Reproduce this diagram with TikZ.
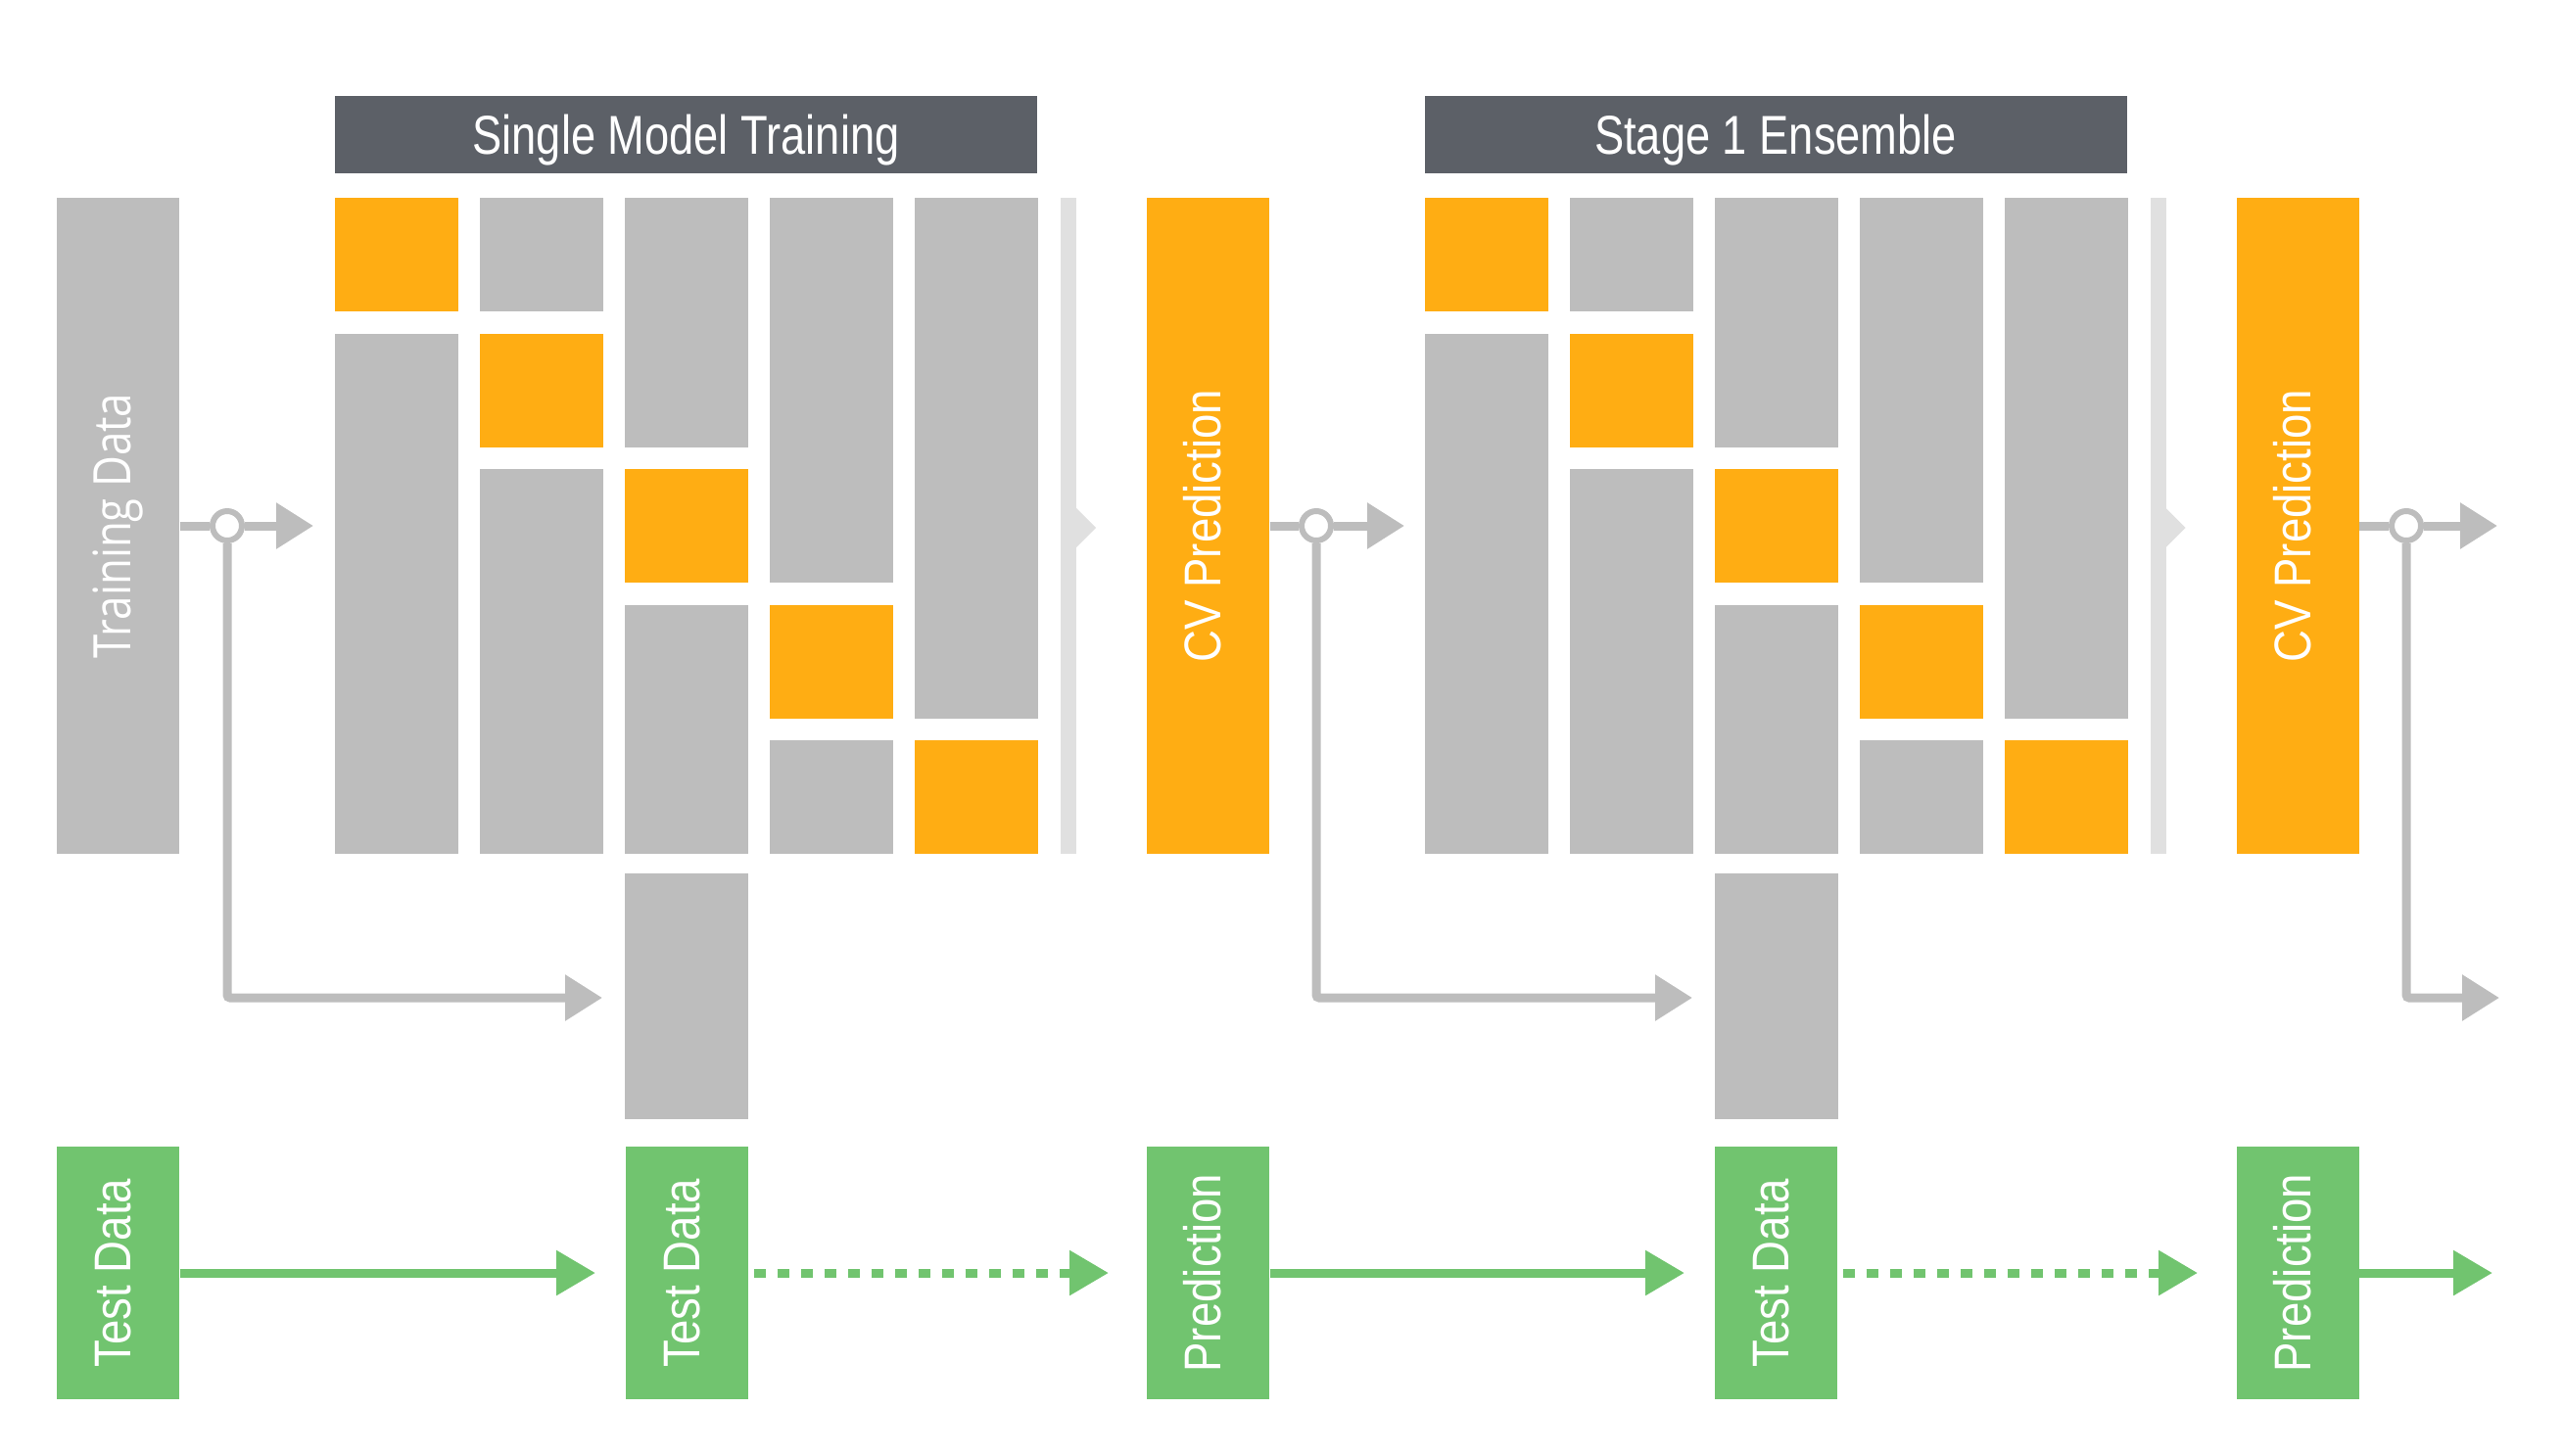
\documentclass[tikz,border=0pt]{standalone}
\usepackage{fontspec}
\usepackage{tikz}
\usetikzlibrary{arrows.meta}

\newfontfamily\titlefont[FakeStretch=0.81]{Liberation Sans}
\newfontfamily\boxfont[FakeStretch=0.865]{Liberation Sans}
\newfontfamily\trainfont[FakeStretch=0.83]{Open Sans}

\definecolor{blockgray}{HTML}{BDBDBD}
\definecolor{foldorange}{HTML}{FFAD13}
\definecolor{testgreen}{HTML}{71C46F}
\definecolor{titlegray}{HTML}{5C6067}
\definecolor{lightbar}{HTML}{E0E0E0}

\tikzset{
  titlebar/.style={fill=titlegray, text=white, minimum width=7.17cm, minimum height=0.79cm,
    inner sep=0pt, text height=0.40cm, text depth=0pt, font=\titlefont\fontsize{15.9}{18}\selectfont},
  databox/.style={fill=#1, minimum width=1.25cm, inner sep=0pt},
  vlabel/.style={rotate=90, text=white, inner sep=0pt, text height=0.38cm, text depth=0.12cm,
    font=\boxfont\fontsize{15}{18}\selectfont},
  junction/.style={circle, draw=blockgray, fill=white, line width=0.06cm, minimum size=0.30cm, inner sep=0pt},
  grayflow/.style={draw=blockgray, line width=0.09cm, -{Triangle[length=0.38cm,width=0.45cm]}},
  greenflow/.style={draw=testgreen, line width=0.09cm, -{Triangle[length=0.40cm,width=0.44cm]}},
}

\begin{document}
\begin{tikzpicture}[y=-1cm]
\useasboundingbox (0,0) rectangle (26.16,14.86);

% 训练数据
\node[databox=blockgray, minimum height=6.70cm] (train) at (1.205,5.37) {};
\node[vlabel, font=\trainfont\fontsize{15}{18}\selectfont] (trainlbl) at (train) {Training Data};

% 两个阶段的折
\foreach \s/\dx/\name in {1/0/Single Model Training, 2/11.125/Stage 1 Ensemble} {
  \node[titlebar] (title\s) at (7.005+\dx,1.375) {\name};
  \foreach \c in {0,...,4} {
    \pgfmathsetmacro{\xl}{3.42+\dx+1.48*\c}
    \pgfmathsetmacro{\yt}{2.02+1.385*\c}
    \fill[foldorange] (\xl,\yt) rectangle ++(1.26,1.16);
    \ifnum\c>0 \fill[blockgray] (\xl,2.02) rectangle (\xl+1.26,\yt-0.225); \fi
    \ifnum\c<4 \fill[blockgray] (\xl,\yt+1.385) rectangle (\xl+1.26,8.72); \fi
  }
  \fill[blockgray] (6.38+\dx,8.92) rectangle ++(1.26,2.51);
  \fill[lightbar] (10.83+\dx,2.02) rectangle (10.99+\dx,8.72);
  \fill[lightbar] (10.99+\dx,5.19) -- (11.19+\dx,5.39) -- (10.99+\dx,5.59) -- cycle;
}

% CV 预测
\node[databox=foldorange, minimum height=6.70cm] (cv1) at (12.335,5.37) {};
\node[vlabel] (cv1lbl) at (cv1) {CV Prediction};
\node[databox=foldorange, minimum height=6.70cm] (cv2) at (23.46,5.37) {};
\node[vlabel] (cv2lbl) at (cv2) {CV Prediction};

% 测试数据与预测
\node[databox=testgreen, minimum height=2.585cm] (test1) at (1.205,13.0) {};
\node[vlabel] (test1lbl) at (test1) {Test Data};
\node[databox=testgreen, minimum height=2.585cm] (test2) at (7.015,13.0) {};
\node[vlabel] (test2lbl) at (test2) {Test Data};
\node[databox=testgreen, minimum height=2.585cm] (pred1) at (12.335,13.0) {};
\node[vlabel] (pred1lbl) at (pred1) {Prediction};
\node[databox=testgreen, minimum height=2.585cm] (test3) at (18.135,13.0) {};
\node[vlabel] (test3lbl) at (test3) {Test Data};
\node[databox=testgreen, minimum height=2.585cm] (pred2) at (23.46,13.0) {};
\node[vlabel] (pred2lbl) at (pred2) {Prediction};

% 灰色连线
\node[junction] (j1) at (2.32,5.37) {};
\node[junction] (j2) at (13.44,5.37) {};
\node[junction] (j3) at (24.57,5.37) {};
\coordinate (a1) at (3.20,5.37);
\coordinate (a2) at (14.34,5.37);
\coordinate (a3) at (25.50,5.37);
\coordinate (b1) at (6.15,10.19);
\coordinate (b2) at (17.28,10.19);
\coordinate (b3) at (25.52,10.19);
\draw[grayflow, -] (train.east) -- (j1);
\draw[grayflow, -] (cv1.east) -- (j2);
\draw[grayflow, -] (cv2.east) -- (j3);
\draw[grayflow] (j1) -- (a1);
\draw[grayflow] (j2) -- (a2);
\draw[grayflow] (j3) -- (a3);
\draw[grayflow, rounded corners=0.03cm] (j1.south) |- (b1);
\draw[grayflow, rounded corners=0.03cm] (j2.south) |- (b2);
\draw[grayflow, rounded corners=0.03cm] (j3.south) |- (b3);

% 绿色连线
\coordinate (g1) at (6.08,13.0);
\coordinate (g2) at (11.32,13.0);
\coordinate (g3) at (17.20,13.0);
\coordinate (g4) at (22.44,13.0);
\coordinate (g5) at (25.45,13.0);
\draw[greenflow] (test1.east) -- (g1);
\draw[greenflow, dash pattern=on 0.12cm off 0.12cm] ([xshift=0.05cm]test2.east) -- (g2);
\draw[greenflow] (pred1.east) -- (g3);
\draw[greenflow, dash pattern=on 0.12cm off 0.12cm] ([xshift=0.05cm]test3.east) -- (g4);
\draw[greenflow] (pred2.east) -- (g5);

\end{tikzpicture}
\end{document}
